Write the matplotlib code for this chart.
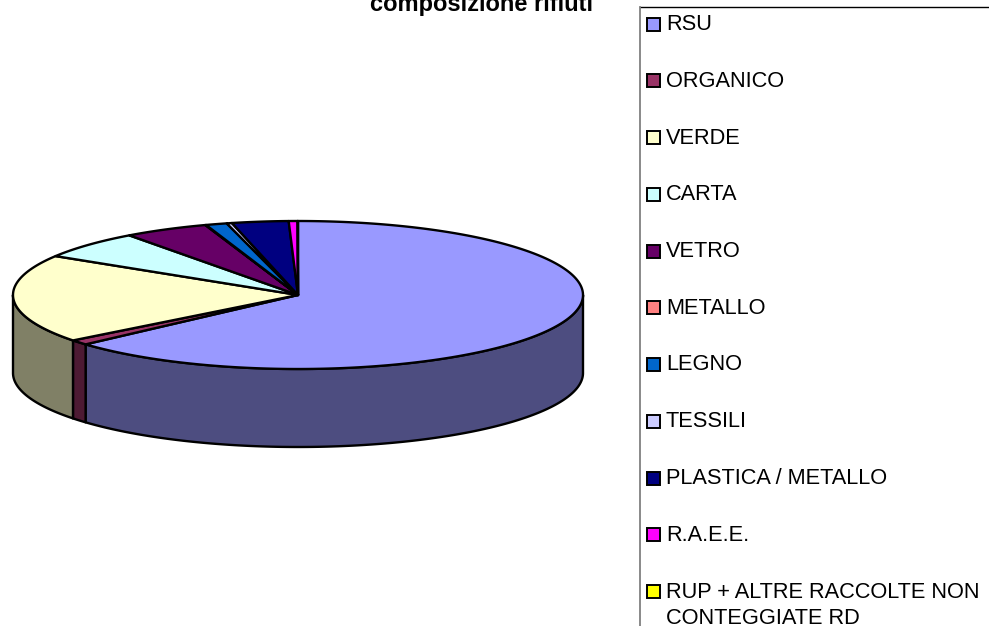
import numpy as np
import matplotlib
matplotlib.use("Agg")
import matplotlib.pyplot as plt
from matplotlib.patches import Rectangle

categories = ["RSU", "ORGANICO", "VERDE", "CARTA", "VETRO", "METALLO", "LEGNO",
              "TESSILI", "PLASTICA / METALLO", "R.A.E.E.",
              "RUP + ALTRE RACCOLTE NON\nCONTEGGIATE RD"]
values = [63.3, 1.1, 19.3, 6.1, 4.8, 0.05, 1.2, 0.3, 3.2, 0.5, 0.02]
colors = ["#9999FF", "#993366", "#FFFFCC", "#CCFFFF", "#660066", "#FF8080",
          "#0066CC", "#CCCCFF", "#000080", "#FF00FF", "#FFFF00"]

plt.rcParams["font.family"] = ["Liberation Sans", "DejaVu Sans"]

# pixel coordinates, same as the reference image
CX, CY, RX, RY, DEPTH = 298, 295, 285, 74, 78
LW = 1.7


def ell(theta):
    # theta in degrees, clockwise from the top of the pie
    t = np.radians(theta)
    return CX + RX * np.sin(t), CY - RY * np.cos(t)


def darker(c):
    return tuple(v * 0.5 for v in matplotlib.colors.to_rgb(c))


fig = plt.figure(figsize=(9.89, 6.26), dpi=100)
ax = fig.add_axes([0, 0, 1, 1])
ax.set_xlim(0, 989)
ax.set_ylim(626, 0)
ax.axis("off")

edges = np.concatenate([[0], np.cumsum(values)]) / sum(values) * 360

# side wall, only the front half shows
for i, c in enumerate(colors):
    a, b = max(edges[i], 90), min(edges[i + 1], 270)
    if b <= a:
        continue
    x, y = ell(np.linspace(a, b, 200))
    px = np.concatenate([x, x[::-1]])
    py = np.concatenate([y, y[::-1] + DEPTH])
    ax.fill(px, py, facecolor=darker(c), edgecolor="black", lw=LW, joinstyle="round")

# top face
for i, c in enumerate(colors):
    x, y = ell(np.linspace(edges[i], edges[i + 1], 300))
    ax.fill(np.r_[CX, x], np.r_[CY, y], facecolor=c, edgecolor="black", lw=LW,
            joinstyle="round")

# the title is cut by the top edge in the original too
ax.text(481, 11.5, "composizione rifiuti", fontsize=17, fontweight="bold",
        ha="center", va="baseline")

# legend frame
ax.plot([640, 989], [7, 7], color="black", lw=1.0)
ax.plot([640, 640], [7, 626], color="#808080", lw=1.3)

for i, (name, c) in enumerate(zip(categories, colors)):
    ly = 24 + i * 56.75
    ax.add_patch(Rectangle((647, ly - 6.5), 13, 13, facecolor=c, edgecolor="black", lw=1.4))
    ax.text(666, ly + 0.5 if "\n" not in name else ly + 14, name, fontsize=15.7, va="center",
            ha="left", color="black", linespacing=1.3)

fig.savefig("out.png", dpi=100)
